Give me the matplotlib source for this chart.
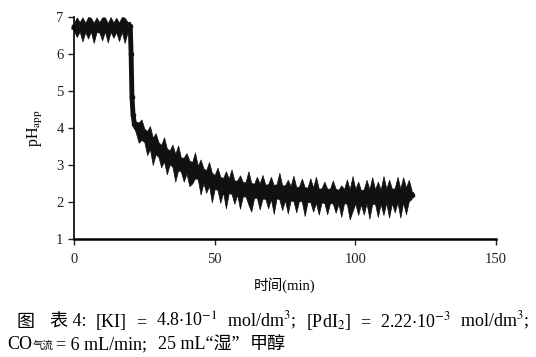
import matplotlib
matplotlib.use("Agg")
import matplotlib.pyplot as plt
import numpy as np

plt.rcParams['font.family'] = ['Liberation Serif', 'Noto Sans CJK SC', 'DejaVu Serif']
plt.rcParams['mathtext.fontset'] = 'stix'

# sampling times (min): 1-min steps, denser around the drop at ~20 min
time = list(range(0, 20)) + [20, 20.3, 20.6, 21, 21.5] + list(range(22, 121))

# centre of the pH band
ph_mid = [6.72, 6.71, 6.73, 6.72, 6.71, 6.72, 6.73, 6.72, 6.71, 6.72,
          6.72, 6.73, 6.71, 6.72, 6.72, 6.71, 6.73, 6.72, 6.72, 6.73,
          6.75, 6.0, 4.85, 4.35, 4.1,
          4.02, 3.95, 3.88, 3.8, 3.72, 3.63, 3.55, 3.48, 3.42, 3.36,
          3.3, 3.25, 3.2, 3.15, 3.1, 3.05, 3.02, 3.0, 2.97, 2.93,
          2.88, 2.84, 2.8, 2.75, 2.71, 2.67, 2.63, 2.59, 2.55, 2.51,
          2.48, 2.46, 2.45, 2.43, 2.42, 2.4, 2.38, 2.37, 2.35, 2.34,
          2.33, 2.32, 2.31, 2.3, 2.3, 2.29, 2.28, 2.28, 2.28, 2.28,
          2.28, 2.27, 2.26, 2.25, 2.24, 2.23, 2.23, 2.22, 2.22, 2.21,
          2.2, 2.2, 2.19, 2.19, 2.18, 2.18, 2.17, 2.17, 2.17, 2.16,
          2.16, 2.16, 2.15, 2.15, 2.15, 2.15, 2.15, 2.15, 2.15, 2.15,
          2.14, 2.14, 2.15, 2.15, 2.15, 2.14, 2.15, 2.15, 2.15, 2.16,
          2.16, 2.17, 2.17, 2.18, 2.18, 2.19, 2.19, 2.2, 2.2]

# upward / downward excursion of the noisy signal around the centre
ph_up = [0.12, 0.28, 0.13, 0.27, 0.13, 0.28, 0.25, 0.12, 0.28, 0.14,
         0.27, 0.26, 0.12, 0.28, 0.13, 0.27, 0.12, 0.28, 0.26, 0.14,
         0.12, 0.1, 0.1, 0.1, 0.12,
         0.15, 0.2, 0.35, 0.18, 0.2, 0.42, 0.19, 0.38, 0.2, 0.18,
         0.45, 0.2, 0.19, 0.4, 0.2, 0.48, 0.18, 0.2, 0.35, 0.19,
         0.2, 0.5, 0.18, 0.4, 0.2, 0.19, 0.45, 0.2, 0.18, 0.42,
         0.2, 0.19, 0.38, 0.2, 0.46, 0.18, 0.2, 0.35, 0.19, 0.2,
         0.5, 0.2, 0.18, 0.38, 0.2, 0.44, 0.19, 0.2, 0.4, 0.18,
         0.2, 0.52, 0.19, 0.2, 0.36, 0.2, 0.48, 0.18, 0.2, 0.42,
         0.2, 0.19, 0.45, 0.2, 0.5, 0.18, 0.2, 0.38, 0.19, 0.2,
         0.42, 0.2, 0.18, 0.3, 0.2, 0.46, 0.19, 0.55, 0.2, 0.4,
         0.18, 0.2, 0.45, 0.19, 0.52, 0.2, 0.4, 0.18, 0.55, 0.2,
         0.44, 0.19, 0.2, 0.5, 0.18, 0.48, 0.2, 0.4, 0.12]
ph_down = [0.1, 0.25, 0.12, 0.38, 0.12, 0.3, 0.12, 0.42, 0.12, 0.14,
           0.35, 0.12, 0.4, 0.12, 0.28, 0.12, 0.38, 0.12, 0.42, 0.15,
           0.12, 0.1, 0.1, 0.1, 0.12,
           0.15, 0.35, 0.2, 0.18, 0.45, 0.2, 0.55, 0.19, 0.2, 0.42,
           0.2, 0.5, 0.18, 0.2, 0.55, 0.19, 0.2, 0.45, 0.2, 0.5,
           0.38, 0.2, 0.18, 0.55, 0.2, 0.42, 0.19, 0.6, 0.2, 0.18,
           0.5, 0.2, 0.62, 0.19, 0.2, 0.45, 0.18, 0.55, 0.2, 0.19,
           0.4, 0.58, 0.2, 0.18, 0.5, 0.2, 0.19, 0.45, 0.2, 0.6,
           0.18, 0.2, 0.48, 0.2, 0.55, 0.19, 0.2, 0.5, 0.18, 0.2,
           0.58, 0.2, 0.19, 0.45, 0.2, 0.52, 0.18, 0.2, 0.5, 0.19,
           0.2, 0.45, 0.2, 0.55, 0.18, 0.2, 0.62, 0.4, 0.19, 0.5,
           0.2, 0.48, 0.18, 0.6, 0.2, 0.19, 0.55, 0.2, 0.5, 0.18,
           0.58, 0.2, 0.45, 0.19, 0.6, 0.2, 0.52, 0.18, 0.12]

x_ticks = [0, 50, 100, 150]
y_ticks = [1, 2, 3, 4, 5, 6, 7]

caption_1 = ['表 4:', '[KI]', '=', '4.8$\\cdot$10$^{-1}$', 'mol/dm$^3$;',
             '[PdI$_2$]', '=', '2.22$\\cdot$10$^{-3}$', 'mol/dm$^3$;']
caption_2 = ['= 6 mL/min;', '25 mL“湿”', '甲醇']

t = np.array(time)
mid = np.array(ph_mid)
hi = mid + np.array(ph_up)
lo = mid - np.array(ph_down)

W, H = 536, 357
fig = plt.figure(figsize=(W / 100, H / 100), dpi=100)
ax = fig.add_axes([74 / W, 1 - 239 / H, (496 - 74) / W, (239 - 17) / H])

ax.fill_between(t, lo, hi, color='#111111', lw=0.5, clip_on=False)
ax.plot(t, mid, color='#111111', lw=3.5, marker='o', ms=3, clip_on=False)

ax.set_xlim(0, 150)
ax.set_ylim(1, 7)
ax.set_xticks(x_ticks)
ax.set_yticks(y_ticks)
ax.spines['top'].set_visible(False)
ax.spines['right'].set_visible(False)
ax.spines['left'].set_linewidth(1.2)
ax.spines['bottom'].set_linewidth(1.8)
ax.tick_params(direction='out', length=4, width=1, labelsize=10.5, colors='#222222')
ax.tick_params(axis='x', pad=6)

ax.set_ylabel('pH$_{\\mathrm{app}}$', fontsize=11.5, labelpad=8)
ax.set_xlabel('时间(min)', fontsize=10.5, labelpad=8)

# caption: spread the pieces over the same width as in the figure
renderer = fig.canvas.get_renderer()


def spread(pieces, size, x0, x1, y):
    texts = [fig.text(0, y, p, fontsize=size, va='baseline') for p in pieces]
    widths = [tx.get_window_extent(renderer).width for tx in texts]
    gap = (x1 - x0 - sum(widths)) / (len(texts) - 1)
    x = x0
    for tx, w in zip(texts, widths):
        tx.set_x(x / W)
        x += w + gap
    return texts


y1 = 1 - 327 / H
fig.text(17 / W, y1, '图', fontsize=13, va='baseline')
spread(caption_1, 13, 50, 529, y1)

y2 = 1 - 349 / H
co = fig.text(7 / W, y2, 'CO', fontsize=13, va='baseline')
co_w = co.get_window_extent(renderer).width
fig.text((7 + co_w + 1) / W, y2, '气流', fontsize=7.5, va='baseline')
spread(caption_2, 13, 56, 286, y2)

fig.savefig('out.png', dpi=100)
